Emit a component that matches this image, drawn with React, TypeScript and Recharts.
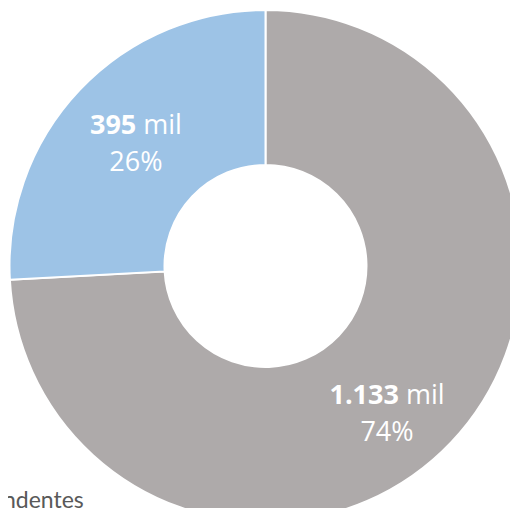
import React from 'react';
import { PieChart, Pie, Cell } from 'recharts';

const SEGMENTS = ['Outros', 'Independentes'];
const VALUES = [1133, 395];
const VALUE_LABELS = ['1.133', '395'];
const PERCENT_LABELS = ['74%', '26%'];
const COLORS = ['#AEAAAA', '#9DC3E6'];
// only the tail of the legend entry survives the crop in the source image
const LEGEND_FRAGMENT = 'ndentes';

const FONT = '"Open Sans", "Liberation Sans", sans-serif';

const data = SEGMENTS.map((name, i) => ({
  name,
  value: VALUES[i],
  valueLabel: VALUE_LABELS[i],
  pct: PERCENT_LABELS[i],
}));

const RADIAN = Math.PI / 180;

function renderLabel(props: any) {
  const { cx, cy, midAngle, innerRadius, outerRadius, index } = props;
  // excel nudges the big slice label a bit outward
  const r = innerRadius + (outerRadius - innerRadius) * (index === 0 ? 0.58 : 0.5);
  const ang = index === 0 ? midAngle - 7 : midAngle;
  const x = cx + r * Math.cos(-ang * RADIAN);
  const y = cy + r * Math.sin(-ang * RADIAN);
  const d = data[index];
  return (
    <text x={x} y={y} textAnchor="middle" fill="#FFFFFF" fontFamily={FONT} fontSize={27}>
      <tspan x={x} dy={-9}>
        <tspan fontWeight="bold">{d.valueLabel}</tspan> mil
      </tspan>
      <tspan x={x} dy={37}>{d.pct}</tspan>
    </text>
  );
}

export default function App() {
  return (
    <div style={{ position: 'relative', width: 518, height: 516, margin: -8, overflow: 'hidden', background: '#fff' }}>
      <PieChart width={518} height={516} margin={{ top: 0, right: 0, bottom: 0, left: 0 }}>
        <Pie
          data={data}
          dataKey="value"
          nameKey="name"
          cx={265.5}
          cy={266}
          innerRadius={101}
          outerRadius={256}
          startAngle={90}
          endAngle={-270}
          stroke="#FFFFFF"
          strokeWidth={2}
          label={renderLabel}
          labelLine={false}
          isAnimationActive={false}
        >
          {data.map((entry, index) => (
            <Cell key={`cell-${index}`} fill={COLORS[index]} />
          ))}
        </Pie>
      </PieChart>
      <span
        style={{
          position: 'absolute',
          left: 3,
          top: 482,
          fontFamily: 'Lato, "Open Sans", sans-serif',
          fontSize: 23,
          lineHeight: '34px',
          color: '#595959',
          whiteSpace: 'nowrap',
        }}
      >
        {LEGEND_FRAGMENT}
      </span>
    </div>
  );
}
